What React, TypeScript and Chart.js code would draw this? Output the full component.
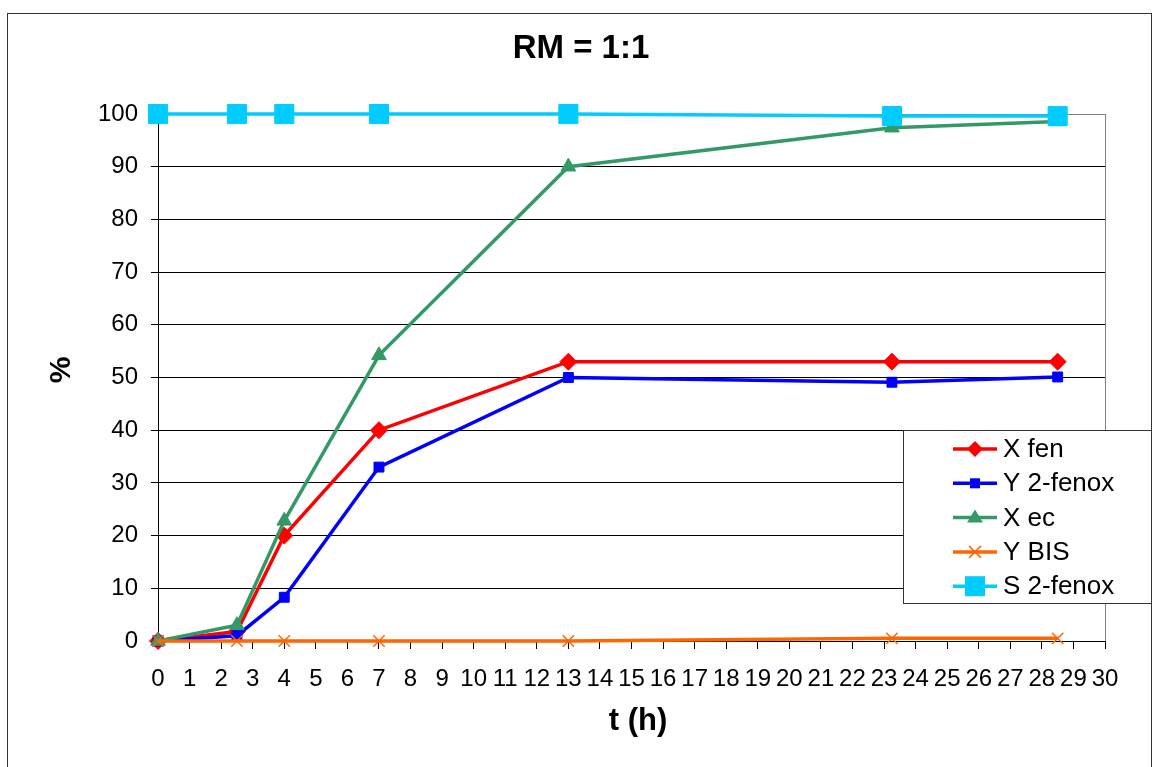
import React, { useEffect, useRef } from 'react';
import { Chart, registerables } from 'chart.js';
Chart.register(...registerables);

const hours = [0, 2.5, 4, 7, 13, 23.25, 28.5];
const xFen = [0, 1.8, 20, 40, 53, 53, 53];
const y2Fenox = [0, 1.0, 8.3, 33, 50, 49.1, 50.1];
const xEc = [0, 3, 22.8, 54.2, 90, 97.4, 98.6];
const yBis = [0, 0, 0, 0, 0, 0.5, 0.5];
const s2Fenox = [100, 100, 100, 100, 100, 99.6, 99.6];

const seriesNames = ['X fen', 'Y 2-fenox', 'X ec', 'Y BIS', 'S 2-fenox'];
const seriesColors = ['#FF0000', '#0000FF', '#339966', '#FF6600', '#00CCFF'];
const seriesStyles = ['rectRot', 'rect', 'triangle', 'crossRot', 'rect'];
const seriesRadius = [8.5, 7, 8.5, 8, 13.5];
const seriesValues = [xFen, y2Fenox, xEc, yBis, s2Fenox];

const chartTitle = 'RM = 1:1';
const xTitle = 't (h)';
const yTitle = '%';
const FONT = '"Liberation Sans", Arial, sans-serif';

function drawMarker(ctx: CanvasRenderingContext2D, style: string, x: number, y: number, color: string, big: boolean) {
  ctx.save();
  ctx.fillStyle = color;
  ctx.strokeStyle = color;
  ctx.beginPath();
  if (style === 'rectRot') {
    const r = 8;
    ctx.moveTo(x, y - r); ctx.lineTo(x + r, y); ctx.lineTo(x, y + r); ctx.lineTo(x - r, y); ctx.closePath(); ctx.fill();
  } else if (style === 'rect') {
    const h = big ? 10 : 5;
    ctx.rect(x - h, y - h, 2 * h, 2 * h); ctx.fill();
  } else if (style === 'triangle') {
    const r = 8;
    ctx.moveTo(x, y - r); ctx.lineTo(x + r, y + r * 0.6); ctx.lineTo(x - r, y + r * 0.6); ctx.closePath(); ctx.fill();
  } else if (style === 'crossRot') {
    const r = 6;
    ctx.lineWidth = 1.5;
    ctx.moveTo(x - r, y - r); ctx.lineTo(x + r, y + r);
    ctx.moveTo(x - r, y + r); ctx.lineTo(x + r, y - r);
    ctx.stroke();
  }
  ctx.restore();
}

const decorPlugin = {
  id: 'decor',
  afterDraw(chart: any) {
    const ctx: CanvasRenderingContext2D = chart.ctx;
    const a = chart.chartArea;
    ctx.save();
    ctx.strokeStyle = '#808080';
    ctx.lineWidth = 1;
    ctx.beginPath();
    ctx.moveTo(Math.round(a.right) + 0.5, a.top);
    ctx.lineTo(Math.round(a.right) + 0.5, a.bottom);
    ctx.stroke();
    ctx.strokeStyle = '#333333';
    ctx.strokeRect(7.5, 13.5, 1144, 800);
    ctx.fillStyle = '#000';
    ctx.textAlign = 'center';
    ctx.textBaseline = 'middle';
    ctx.font = `bold 33px ${FONT}`;
    ctx.fillText(chartTitle, 581, 49);
    ctx.font = `bold 31px ${FONT}`;
    ctx.fillText(xTitle, 638, 721);
    ctx.save();
    ctx.translate(62, 370);
    ctx.rotate(-Math.PI / 2);
    ctx.font = `bold 30px ${FONT}`;
    ctx.fillText(yTitle, 0, 0);
    ctx.restore();
    const lx = 903.5, ly = 430.5, lw = 248, lh = 173;
    ctx.fillStyle = '#fff';
    ctx.fillRect(lx, ly, lw, lh);
    ctx.strokeStyle = '#333333';
    ctx.strokeRect(lx, ly, lw, lh);
    ctx.font = `26px ${FONT}`;
    ctx.textAlign = 'left';
    ctx.textBaseline = 'middle';
    for (let i = 0; i < seriesNames.length; i++) {
      const cy = 449 + i * 34.3;
      ctx.strokeStyle = seriesColors[i];
      ctx.lineWidth = 3.5;
      ctx.beginPath();
      ctx.moveTo(953, cy);
      ctx.lineTo(997, cy);
      ctx.stroke();
      drawMarker(ctx, seriesStyles[i], 975, cy, seriesColors[i], i === 4);
      ctx.fillStyle = '#000';
      ctx.fillText(seriesNames[i], 1003, cy + 1);
    }
    ctx.restore();
  },
};

export default function App() {
  const ref = useRef<HTMLCanvasElement | null>(null);
  useEffect(() => {
    if (!ref.current) return;
    const datasets = seriesNames.map((name, i) => ({
      label: name,
      data: hours.map((h, j) => ({ x: h, y: seriesValues[i][j] })),
      borderColor: seriesColors[i],
      backgroundColor: seriesColors[i],
      pointBackgroundColor: seriesColors[i],
      pointBorderColor: seriesColors[i],
      pointStyle: seriesStyles[i],
      pointRadius: seriesRadius[i],
      pointBorderWidth: i === 3 ? 1.5 : 1,
      borderWidth: 3.5,
      tension: 0,
      fill: false,
      clip: false as any,
      order: 4 - i,
    }));
    const chart = new Chart(ref.current, {
      type: 'line',
      data: { datasets },
      options: {
        responsive: false,
        animation: false,
        layout: { padding: { top: 114, right: 49, left: 0, bottom: 0 } },
        plugins: { legend: { display: false }, title: { display: false }, tooltip: { enabled: false } },
        scales: {
          x: {
            type: 'linear',
            min: 0,
            max: 30,
            afterFit: (s: any) => { s.height = 126; },
            ticks: { stepSize: 1, autoSkip: false, maxRotation: 0, minRotation: 0, color: '#000', padding: 16, font: { family: FONT, size: 24 } },
            grid: { drawOnChartArea: false, drawTicks: true, tickLength: 8, color: '#000' },
            border: { color: '#000', width: 1 },
          },
          y: {
            type: 'linear',
            min: 0,
            max: 100,
            afterFit: (s: any) => { s.width = 158; },
            ticks: { stepSize: 10, color: '#000', padding: 13, font: { family: FONT, size: 24 } },
            grid: { color: (c: any) => (c.tick && c.tick.value === 100 ? '#808080' : '#000'), tickLength: 7 },
            border: { color: '#000', width: 1 },
          },
        },
      },
      plugins: [decorPlugin],
    });
    return () => chart.destroy();
  }, []);
  return (
    <div style={{ position: 'absolute', left: 0, top: 0, width: 1154, height: 767, background: '#fff' }}>
      <canvas ref={ref} width={1154} height={767} style={{ display: 'block' }} />
    </div>
  );
}
